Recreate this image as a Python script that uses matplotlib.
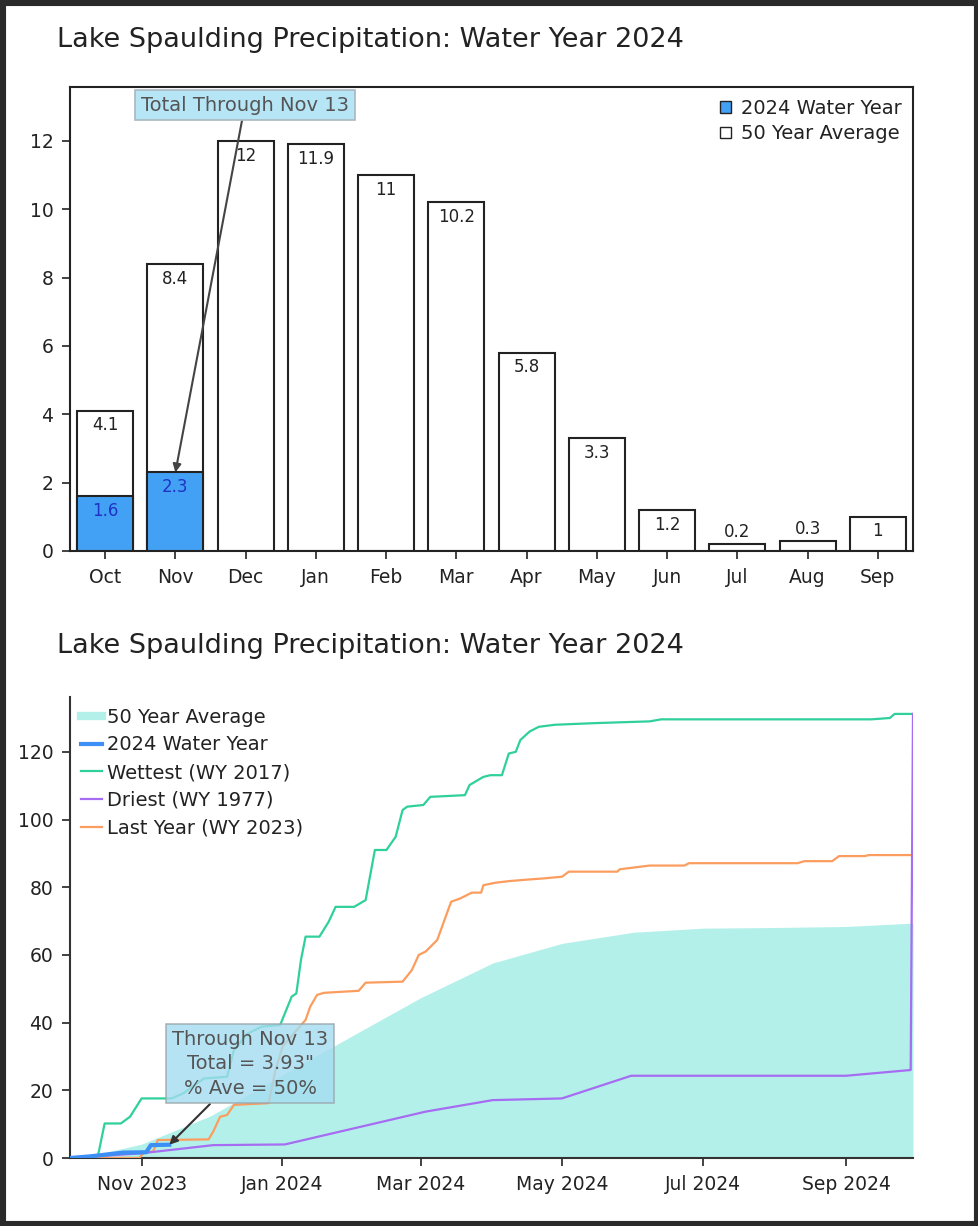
import matplotlib
matplotlib.use("Agg")
import matplotlib.pyplot as plt
import matplotlib.dates as mdates
from matplotlib.patches import Patch, Rectangle
from matplotlib.lines import Line2D
import numpy as np
import pandas as pd

plt.rcParams['font.family'] = ['DejaVu Sans']

# ---- monthly data (top chart)
months = ["Oct", "Nov", "Dec", "Jan", "Feb", "Mar", "Apr", "May", "Jun", "Jul", "Aug", "Sep"]
avg_monthly = [4.1, 8.4, 12, 11.9, 11, 10.2, 5.8, 3.3, 1.2, 0.2, 0.3, 1]
wy2024_monthly = [1.6, 2.3]

# ---- cumulative data (bottom chart)
avg_dates = ["2023-10-01", "2023-10-16", "2023-11-01", "2023-11-15", "2023-12-01", "2023-12-16",
             "2024-01-01", "2024-02-01", "2024-03-01", "2024-04-01", "2024-05-01", "2024-06-01",
             "2024-07-01", "2024-08-01", "2024-09-01", "2024-09-30"]
avg_cum = [0, 1.6, 4.1, 8.0, 12.5, 18.3, 24.5, 36.4, 47.4, 57.6, 63.4, 66.7, 67.9, 68.1, 68.4, 69.4]

wy2024_dates = ["2023-10-01", "2023-10-10", "2023-10-24", "2023-11-03", "2023-11-05", "2023-11-13"]
wy2024_cum = [0, 0.5, 1.6, 1.7, 3.8, 3.93]

wet_dates = ["2023-10-01", "2023-10-13", "2023-10-16", "2023-10-23", "2023-10-27", "2023-11-01",
             "2023-11-14", "2023-11-19", "2023-11-28", "2023-12-08", "2023-12-11", "2023-12-17",
             "2023-12-23", "2023-12-31", "2024-01-05", "2024-01-07", "2024-01-09", "2024-01-11",
             "2024-01-17", "2024-01-21", "2024-01-24", "2024-02-01", "2024-02-06", "2024-02-10",
             "2024-02-15", "2024-02-19", "2024-02-22", "2024-02-24", "2024-03-02", "2024-03-05",
             "2024-03-20", "2024-03-22", "2024-03-28", "2024-03-31", "2024-04-05", "2024-04-08",
             "2024-04-11", "2024-04-13", "2024-04-17", "2024-04-21", "2024-04-28", "2024-05-16",
             "2024-06-08", "2024-06-13", "2024-09-12", "2024-09-20", "2024-09-22", "2024-09-30"]
wet_cum = [0, 0.3, 10.2, 10.2, 12.2, 17.6,
           17.6, 19.1, 23.5, 24.0, 31.9, 36.8,
           38.8, 39.3, 47.7, 48.6, 58.5, 65.4,
           65.4, 69.8, 74.2, 74.2, 76.2, 91.0,
           91.0, 94.9, 102.8, 103.8, 104.3, 106.7,
           107.2, 110.2, 112.6, 113.1, 113.1, 119.5,
           120.0, 123.5, 126.0, 127.4, 128.0, 128.5,
           129.0, 129.6, 129.6, 130.0, 131.2, 131.2]

dry_dates = ["2023-10-01", "2023-10-21", "2023-11-01", "2023-12-02", "2024-01-02", "2024-03-03",
             "2024-04-01", "2024-05-01", "2024-05-31", "2024-09-01", "2024-09-29", "2024-09-30"]
dry_cum = [0, 0.9, 1.4, 3.8, 4.0, 13.7, 17.1, 17.6, 24.3, 24.3, 26.0, 131.2]

last_dates = ["2023-10-01", "2023-10-31", "2023-11-02", "2023-11-06", "2023-11-08", "2023-11-30",
              "2023-12-02", "2023-12-05", "2023-12-08", "2023-12-11", "2023-12-26", "2023-12-29",
              "2024-01-01", "2024-01-11", "2024-01-13", "2024-01-16", "2024-01-19", "2024-02-03",
              "2024-02-06", "2024-02-22", "2024-02-26", "2024-02-29", "2024-03-03", "2024-03-08",
              "2024-03-14", "2024-03-18", "2024-03-23", "2024-03-27", "2024-03-28", "2024-04-02",
              "2024-04-08", "2024-04-17", "2024-04-23", "2024-05-01", "2024-05-04", "2024-05-25",
              "2024-05-26", "2024-06-08", "2024-06-23", "2024-06-25", "2024-08-11", "2024-08-14",
              "2024-08-26", "2024-08-29", "2024-09-09", "2024-09-11", "2024-09-29"]
last_cum = [0, 0, 1.6, 1.9, 5.3, 5.5,
            7.8, 12.2, 12.7, 15.7, 16.2, 26.0,
            32.9, 40.8, 44.7, 48.2, 48.8, 49.4,
            51.8, 52.1, 55.5, 60.0, 61.0, 64.4,
            75.7, 76.7, 78.4, 78.4, 80.6, 81.3,
            81.8, 82.3, 82.6, 83.1, 84.6, 84.6,
            85.3, 86.4, 86.4, 87.1, 87.1, 87.7,
            87.7, 89.2, 89.2, 89.5, 89.5]

title = "Lake Spaulding Precipitation: Water Year 2024"
thru_date = "2023-11-13"
thru_total = 3.93
thru_pct = 50

c_bar = "#42a1f5"
c_fill = "#b4f0ea"
c_blue = "#3d8ff5"
c_wet = "#2fd09c"
c_dry = "#a66cf2"
c_last = "#fb9d5e"
c_txt = "#222222"

fig = plt.figure(figsize=(9.79, 12.26), dpi=100)

# ================= top: monthly bars
ax1 = fig.add_axes([70/979, 1-551/1226, 843/979, 464/1226])
x = np.arange(len(months))
ax1.bar(x, avg_monthly, width=0.8, color="white", edgecolor="#222", linewidth=1.5, zorder=2)
ax1.bar(x[:len(wy2024_monthly)], wy2024_monthly, width=0.8, color=c_bar, edgecolor="#222",
        linewidth=1.5, zorder=3)
for i, v in enumerate(avg_monthly):
    if v < 0.8:
        # too short for the label: put it above the bar
        ax1.annotate(f"{v:g}", (i, v), xytext=(0, 2), textcoords="offset points",
                     ha="center", va="bottom", fontsize=12, color=c_txt, zorder=4)
    else:
        ax1.annotate(f"{v:g}", (i, v), xytext=(0, -4), textcoords="offset points",
                     ha="center", va="top", fontsize=12, color=c_txt, zorder=4)
for i, v in enumerate(wy2024_monthly):
    ax1.annotate(f"{v:g}", (i, v), xytext=(0, -4), textcoords="offset points",
                 ha="center", va="top", fontsize=12, color="#1f33c4", zorder=4)

ax1.set_xlim(-0.5, 11.5)
ax1.set_ylim(0, 13.58)
ax1.set_xticks(x)
ax1.set_xticklabels(months)
ax1.set_yticks(np.arange(0, 13, 2))
ax1.tick_params(labelsize=13.5, colors=c_txt, length=6, width=1.2, pad=6)
for s in ax1.spines.values():
    s.set_linewidth(1.5)
    s.set_color("#222")

ax1.annotate("Total Through Nov 13", xy=(1, wy2024_monthly[1]), xytext=(1.99, 13.05),
             ha="center", va="center", fontsize=14, color="#555555",
             bbox=dict(boxstyle="square,pad=0.3", fc="#b6e5f6", ec="#a9b8bf", lw=1.2),
             arrowprops=dict(arrowstyle="-|>", color="#444444", lw=1.5, mutation_scale=12,
                             shrinkA=0, shrinkB=0), zorder=6)

h1 = [Patch(facecolor=c_bar, edgecolor="#222", label="2024 Water Year"),
      Patch(facecolor="white", edgecolor="#222", label="50 Year Average")]
ax1.legend(handles=h1, loc="upper right", frameon=False, fontsize=14, handlelength=0.55,
           handleheight=0.55, handletextpad=0.5, labelspacing=0.35, borderaxespad=0.2,
           labelcolor=c_txt)
fig.text(57/979, 1-40/1226, title, fontsize=19.5, color=c_txt, va="center")

# ================= bottom: cumulative lines
ax2 = fig.add_axes([70/979, 1-1158/1226, 843/979, 461/1226])
ad = pd.to_datetime(avg_dates)
ax2.fill_between(ad, 0, avg_cum, color=c_fill, lw=0, zorder=1)
ax2.plot(pd.to_datetime(wet_dates), wet_cum, color=c_wet, lw=1.6, zorder=3)
ax2.plot(pd.to_datetime(last_dates), last_cum, color=c_last, lw=1.6, zorder=3)
ax2.plot(pd.to_datetime(dry_dates), dry_cum, color=c_dry, lw=1.6, zorder=3)
ax2.plot(pd.to_datetime(wy2024_dates), wy2024_cum, color=c_blue, lw=3, zorder=4)

ax2.set_xlim(pd.Timestamp("2023-10-01"), pd.Timestamp("2024-09-30"))
ax2.set_ylim(0, 136.2)
ax2.set_yticks(np.arange(0, 121, 20))
ax2.xaxis.set_major_locator(mdates.MonthLocator(bymonth=[1, 3, 5, 7, 9, 11]))
ax2.xaxis.set_major_formatter(mdates.DateFormatter("%b %Y"))
ax2.tick_params(labelsize=13.5, colors=c_txt, length=6, width=1.2, pad=6)
ax2.spines["top"].set_visible(False)
ax2.spines["right"].set_visible(False)
for s in ("left", "bottom"):
    ax2.spines[s].set_linewidth(1.5)
    ax2.spines[s].set_color("#333")

ax2.annotate(f"Through Nov 13\nTotal = {thru_total:.2f}\"\n% Ave = {thru_pct}%",
             xy=(pd.Timestamp(thru_date), thru_total), xytext=(pd.Timestamp("2023-12-18"), 27.8),
             ha="center", va="center", fontsize=14, color="#555555", linespacing=1.35,
             bbox=dict(boxstyle="square,pad=0.3", fc="#a4dcf0", ec="#9aa6ab", lw=1.2, alpha=0.8),
             arrowprops=dict(arrowstyle="-|>", color="#333333", lw=1.5, mutation_scale=12,
                             shrinkA=0, shrinkB=0), zorder=6)

h2 = [Line2D([], [], color=c_fill, lw=6, label="50 Year Average"),
      Line2D([], [], color=c_blue, lw=3, label="2024 Water Year"),
      Line2D([], [], color=c_wet, lw=1.6, label="Wettest (WY 2017)"),
      Line2D([], [], color=c_dry, lw=1.6, label="Driest (WY 1977)"),
      Line2D([], [], color=c_last, lw=1.6, label="Last Year (WY 2023)")]
ax2.legend(handles=h2, loc="upper left", frameon=False, fontsize=14, handlelength=1.1,
           handletextpad=0.25, labelspacing=0.45, borderaxespad=0.25, borderpad=0.3,
           labelcolor=c_txt)
fig.text(57/979, 1-646/1226, title, fontsize=19.5, color=c_txt, va="center")

# dark frame round the picture
fig.patches.append(Rectangle((0, 0), 1, 1, transform=fig.transFigure, fill=False,
                             edgecolor="#2a2a2a", linewidth=8))

fig.savefig("out.png", dpi=100)
